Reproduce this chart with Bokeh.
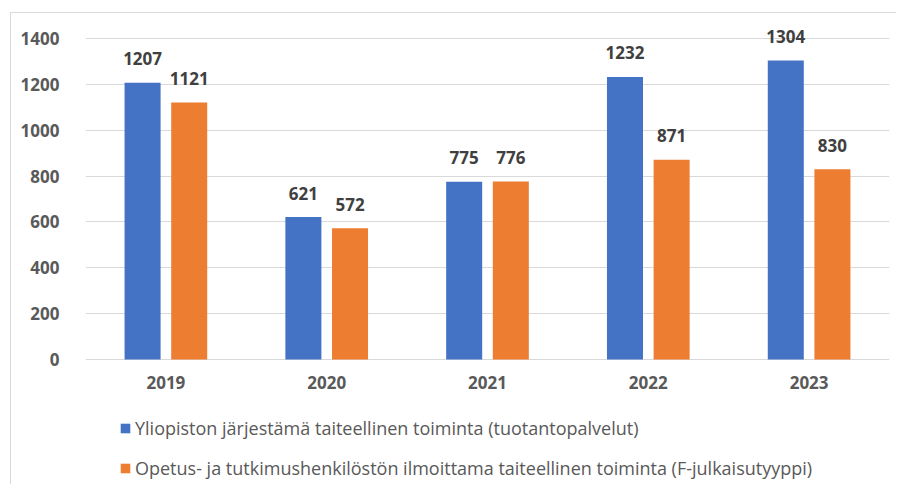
from bokeh.plotting import figure
from bokeh.models import ColumnDataSource, FactorRange, Range1d, FixedTicker, Legend, LegendItem
from bokeh.transform import dodge
from bokeh.core.properties import value
from bokeh.embed import file_html
from bokeh.resources import INLINE

years = ["2019", "2020", "2021", "2022", "2023"]
series_names = [
    "Yliopiston järjestämä taiteellinen toiminta (tuotantopalvelut)",
    "Opetus- ja tutkimushenkilöstön ilmoittama taiteellinen toiminta (F-julkaisutyyppi)",
]
yliopisto = [1207, 621, 775, 1232, 1304]
henkilosto = [1121, 572, 776, 871, 830]
y_ticks = [0, 200, 400, 600, 800, 1000, 1200, 1400]

BLUE = "#4472C4"
ORANGE = "#ED7D31"
FONT = "Open Sans"

source = ColumnDataSource(data=dict(
    year=years,
    zero=[0] * len(years),
    a=yliopisto,
    b=henkilosto,
    a_lbl=[str(v) for v in yliopisto],
    b_lbl=[str(v) for v in henkilosto],
))

# layout (pixels)
W, H = 886, 472
TOP, LEFT, RIGHT = 2, 74, 8
PX_ABOVE_ZERO = 344      # frame pixels from y=0 to the top of the frame
PX_BELOW_ZERO = H - TOP - PX_ABOVE_ZERO   # room kept inside the frame for labels/legend
Y_TOP = 1500
y_start = -PX_BELOW_ZERO * Y_TOP / PX_ABOVE_ZERO

p = figure(
    x_range=FactorRange(*years, range_padding=0),
    y_range=Range1d(y_start, Y_TOP),
    width=W, height=H,
    output_backend="svg", toolbar_location=None,
    min_border_left=LEFT, min_border_right=RIGHT, min_border_top=TOP, min_border_bottom=0,
)
p.margin = (12, 0, 0, 10)
p.styles = {"border-left": "1px solid #d9d9d9", "border-top": "1px solid #d9d9d9"}
p.outline_line_color = None
p.background_fill_color = "white"
p.border_fill_color = "white"

off = 0.145
bw = 0.224
ra = p.vbar(x=dodge("year", -off, range=p.x_range), top="a", bottom="zero", width=bw,
            source=source, fill_color=BLUE, line_color=None)
rb = p.vbar(x=dodge("year", off, range=p.x_range), top="b", bottom="zero", width=bw,
            source=source, fill_color=ORANGE, line_color=None)

for col, lbl in ((-off, "a_lbl"), (off, "b_lbl")):
    p.text(x=dodge("year", col, range=p.x_range), y=lbl[0], text=lbl, source=source,
           text_align="center", text_baseline="middle", y_offset=-24,
           text_font=value(FONT), text_font_style="bold", text_font_size="17px",
           text_color="#404040")

# category labels under the zero line
p.text(x="year", y="zero", text="year", source=source,
       text_align="center", text_baseline="middle", y_offset=23,
       text_font=value(FONT), text_font_style="bold", text_font_size="17px",
       text_color="#595959")

p.xaxis.visible = False
p.xgrid.grid_line_color = None
p.ygrid.grid_line_color = "#d9d9d9"
p.ygrid.grid_line_width = 1
p.ygrid.ticker = FixedTicker(ticks=y_ticks)
p.yaxis.ticker = FixedTicker(ticks=y_ticks)
p.yaxis.axis_line_color = None
p.yaxis.major_tick_line_color = None
p.yaxis.minor_tick_line_color = None
p.yaxis.major_label_standoff = 20
p.yaxis.major_label_text_font = FONT
p.yaxis.major_label_text_font_size = "17px"
p.yaxis.major_label_text_color = "#595959"
p.yaxis.major_label_text_font_style = "bold"

legend = Legend(
    items=[LegendItem(label=series_names[0], renderers=[ra]),
           LegendItem(label=series_names[1], renderers=[rb])],
    location=(34, 5), orientation="vertical",
    glyph_width=12, glyph_height=12, label_height=25, label_standoff=4, spacing=15,
    padding=0, margin=0, border_line_color=None, background_fill_alpha=0,
    label_text_font=FONT, label_text_font_size="18px", label_text_color="#595959",
)
p.add_layout(legend, "center")

open("out.html", "w").write(file_html(p, INLINE))
